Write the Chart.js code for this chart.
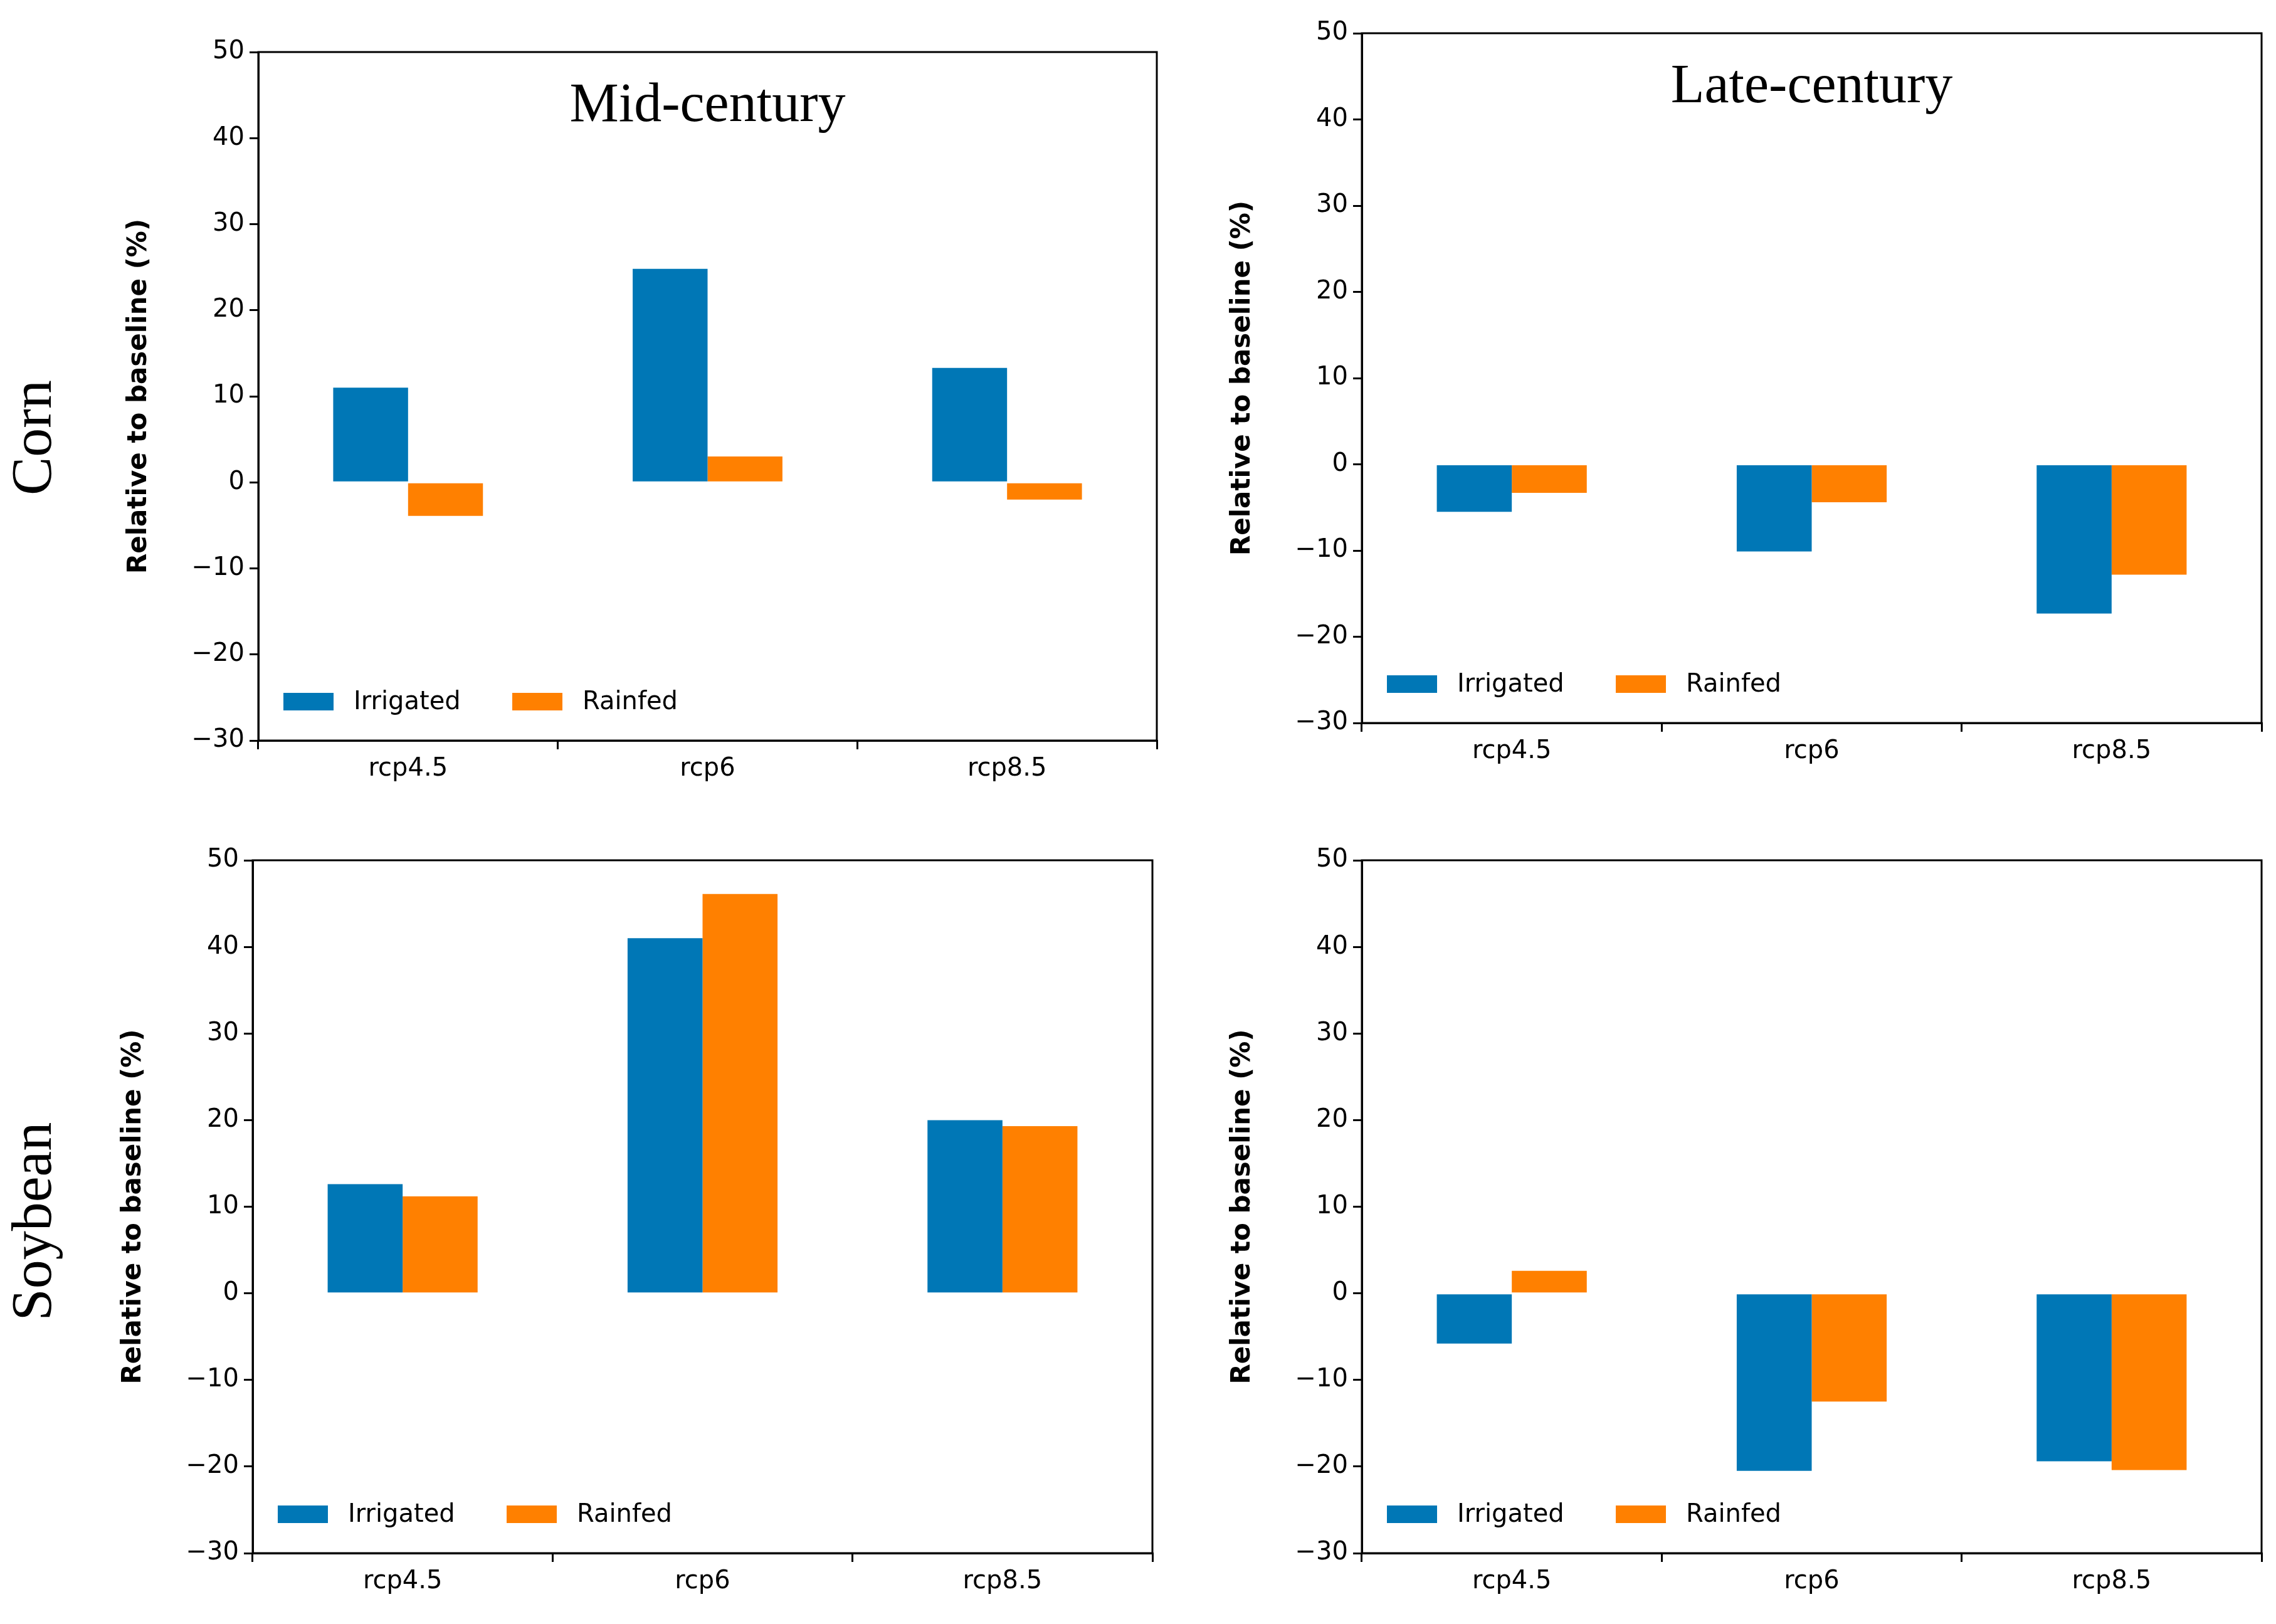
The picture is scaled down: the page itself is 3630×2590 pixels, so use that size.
<!DOCTYPE html>
<html>
<head>
<meta charset="utf-8">
<script src="https://cdn.jsdelivr.net/npm/chart.js@4"></script>
<style>
  body { margin: 0; width: 3630px; height: 2590px; background: #fff; position: relative; overflow: hidden; }
  .panel { position: absolute; }
  .row { position: absolute; font-family: "Liberation Serif", serif; font-size: 92px; transform: rotate(-90deg); transform-origin: center; white-space: nowrap; }
</style>
</head>
<body>
<div class="row" style="left:-50px; top:645px; width:200px; text-align:center;">Corn</div>
<div class="row" style="left:-115px; top:1895px; width:330px; text-align:center;">Soybean</div>
<div class="panel" id="p1"><canvas id="c1"></canvas></div>
<div class="panel" id="p2"><canvas id="c2"></canvas></div>
<div class="panel" id="p3"><canvas id="c3"></canvas></div>
<div class="panel" id="p4"><canvas id="c4"></canvas></div>
<script>
const escenarios = ["rcp4.5", "rcp6", "rcp8.5"];
const ticksY = [-30, -20, -10, 0, 10, 20, 30, 40, 50];

const maizMedioIrr = [11.0, 24.8, 13.3];
const maizMedioSec = [-3.9, 3.0, -2.0];
const maizTardioIrr = [-5.5, -10.1, -17.3];
const maizTardioSec = [-3.3, -4.4, -12.8];
const sojaMedioIrr = [12.6, 41.0, 20.0];
const sojaMedioSec = [11.2, 46.1, 19.3];
const sojaTardioIrr = [-5.8, -20.5, -19.4];
const sojaTardioSec = [2.6, -12.5, -20.4];

const AZUL = "#0077b6";
const NARANJA = "#ff8000";
const EJE_Y = 215;
const EJE_X = 95;

const marcoYLeyenda = {
  id: "marcoYLeyenda",
  afterDraw(chart) {
    const { ctx, chartArea: a } = chart;
    const o = chart.options.plugins.marcoYLeyenda;
    ctx.save();
    ctx.strokeStyle = "#000";
    ctx.lineWidth = 3;
    ctx.strokeRect(a.left, a.top, a.right - a.left, a.bottom - a.top);
    ctx.fillStyle = "#000";
    ctx.font = "88px 'Liberation Serif', serif";
    ctx.textAlign = "center";
    ctx.textBaseline = "alphabetic";
    ctx.fillText(o.titulo, (a.left + a.right) / 2, a.top + 110);
    ctx.font = "40px 'DejaVu Sans', sans-serif";
    ctx.textAlign = "left";
    ctx.textBaseline = "middle";
    const yl = a.bottom - 62;
    const items = [["Irrigated", AZUL], ["Rainfed", NARANJA]];
    let x = a.left + 40;
    items.forEach(([t, c]) => {
      ctx.fillStyle = c;
      ctx.fillRect(x, yl - 14, 80, 28);
      ctx.fillStyle = "#000";
      ctx.fillText(t, x + 112, yl + 2);
      x += 365;
    });
    ctx.restore();
  }
};

function crearPanel(num, area, titulo, irr, sec) {
  const div = document.getElementById("p" + num);
  const left = area.left - EJE_Y;
  const top = area.top - 30;
  const w = area.right - left + 20;
  const h = area.bottom - top + EJE_X;
  Object.assign(div.style, { left: left + "px", top: top + "px", width: w + "px", height: h + "px" });

  const config = {
    type: "bar",
    data: {
      labels: escenarios,
      datasets: [
        { label: "Irrigated", data: irr, backgroundColor: AZUL, categoryPercentage: 0.5, barPercentage: 1 },
        { label: "Rainfed", data: sec, backgroundColor: NARANJA, categoryPercentage: 0.5, barPercentage: 1 },
      ],
    },
    options: {
      responsive: true,
      maintainAspectRatio: false,
      animation: false,
      layout: { padding: { top: 30, right: 20, left: 0, bottom: 0 } },
      plugins: {
        legend: { display: false },
        tooltip: { enabled: false },
        marcoYLeyenda: { titulo: titulo },
      },
      scales: {
        x: {
          grid: { drawOnChartArea: false, drawTicks: true, tickLength: 14, color: "#000", lineWidth: 3 },
          border: { color: "#000", width: 3 },
          ticks: { color: "#000", font: { size: 40, family: "DejaVu Sans" }, padding: 8 },
          afterFit: (s) => { s.height = EJE_X; },
        },
        y: {
          min: -30,
          max: 50,
          afterBuildTicks: (s) => { s.ticks = ticksY.map((v) => ({ value: v })); },
          grid: { drawOnChartArea: false, drawTicks: true, tickLength: 14, color: "#000", lineWidth: 3 },
          border: { color: "#000", width: 3 },
          ticks: {
            color: "#000",
            font: { size: 40, family: "DejaVu Sans" },
            padding: 8,
            callback: (v) => (v < 0 ? "\u2212" + Math.abs(v) : v),
          },
          title: {
            display: true,
            text: "Relative to baseline (%)",
            color: "#000",
            font: { size: 42, weight: "bold", family: "DejaVu Sans" },
            padding: 0,
          },
          afterFit: (s) => { s.width = EJE_Y; },
        },
      },
    },
    plugins: [marcoYLeyenda],
  };
  return new Chart(document.getElementById("c" + num), config);
}

crearPanel(1, { left: 412, right: 1845, top: 81, bottom: 1181 }, "Mid-century", maizMedioIrr, maizMedioSec);
crearPanel(2, { left: 2172, right: 3607, top: 51, bottom: 1153 }, "Late-century", maizTardioIrr, maizTardioSec);
crearPanel(3, { left: 403, right: 1838, top: 1370, bottom: 2477 }, "", sojaMedioIrr, sojaMedioSec);
crearPanel(4, { left: 2172, right: 3607, top: 1370, bottom: 2477 }, "", sojaTardioIrr, sojaTardioSec);
</script>
</body>
</html>
